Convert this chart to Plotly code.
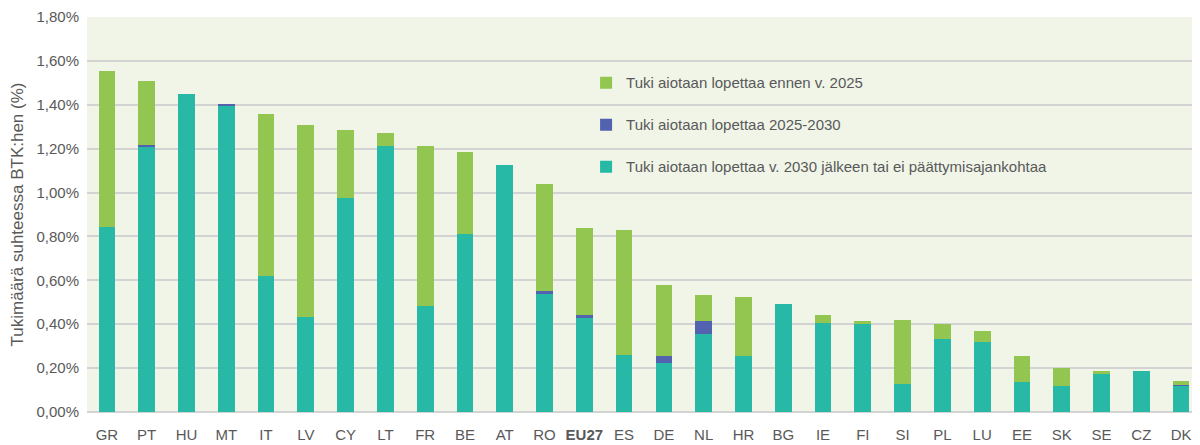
import plotly.graph_objects as go

countries = ["GR", "PT", "HU", "MT", "IT", "LV", "CY", "LT", "FR", "BE", "AT", "RO", "EU27",
             "ES", "DE", "NL", "HR", "BG", "IE", "FI", "SI", "PL", "LU", "EE", "SK", "SE", "CZ", "DK"]
# % of GDP
after_2030 = [0.843, 1.208, 1.450, 1.395, 0.619, 0.432, 0.975, 1.213, 0.482, 0.811, 1.126, 0.539, 0.432,
              0.259, 0.224, 0.356, 0.255, 0.491, 0.405, 0.402, 0.126, 0.332, 0.318, 0.136, 0.117, 0.177, 0.186, 0.119]
between_2025_2030 = [0.0, 0.009, 0.0, 0.008, 0.0, 0.0, 0.0, 0.0, 0.0, 0.0, 0.0, 0.012, 0.009,
                     0.0, 0.033, 0.058, 0.0, 0.0, 0.0, 0.0, 0.0, 0.0, 0.0, 0.0, 0.0, 0.0, 0.0, 0.004]
before_2025 = [0.712, 0.292, 0.0, 0.0, 0.740, 0.877, 0.311, 0.059, 0.731, 0.374, 0.0, 0.489, 0.397,
               0.570, 0.321, 0.119, 0.269, 0.0, 0.036, 0.012, 0.293, 0.068, 0.050, 0.118, 0.082, 0.009, 0.0, 0.017]

tick_text = [f"<b>{c}</b>" if c == "EU27" else c for c in countries]

# stacking order bottom -> top, legend rank top -> bottom
series = [
    ("Tuki aiotaan lopettaa v. 2030 jälkeen tai ei päättymisajankohtaa", after_2030, "#27B9A6", 3),
    ("Tuki aiotaan lopettaa 2025-2030", between_2025_2030, "#5262AF", 2),
    ("Tuki aiotaan lopettaa ennen v. 2025", before_2025, "#92C650", 1),
]

fig = go.Figure()
for name, values, color, rank in series:
    fig.add_trace(
        go.Bar(
            x=countries,
            y=values,
            name=name,
            legendgroup=name,
            legendrank=rank,
            marker=dict(color=color, line_width=0),
        )
    )

# page body has an 8px margin, so the figure is offset by 8px on screen
fig.update_layout(
    barmode="stack",
    bargap=0.58,
    width=1200,
    height=445,
    margin=dict(l=79, r=7, t=9, b=41),
    paper_bgcolor="white",
    plot_bgcolor="#F0F5E8",
    separators=", ",
    font=dict(family="Liberation Sans, Arial, sans-serif", size=13, color="#595959"),
    legend=dict(
        x=0.448,
        y=0.875,
        xanchor="left",
        yanchor="top",
        bgcolor="rgba(0,0,0,0)",
        traceorder="grouped",
        tracegroupgap=19.5,
        font=dict(size=15, color="#595959"),
        itemwidth=30,
    ),
    xaxis=dict(
        tickmode="array",
        tickvals=countries,
        ticktext=tick_text,
        showgrid=False,
        showline=False,
        ticks="",
        automargin=False,
        ticklabelstandoff=12,
        tickfont=dict(size=15, color="#595959"),
    ),
    yaxis=dict(
        range=[0, 1.8],
        dtick=0.2,
        tickformat=".2f",
        ticksuffix="%",
        gridcolor="#D3D3D3",
        gridwidth=2,
        zeroline=True,
        zerolinecolor="#D3D3D3",
        zerolinewidth=2,
        showline=False,
        ticks="",
        automargin=False,
        ticklabelstandoff=7,
        tickfont=dict(size=15, color="#595959"),
        title=dict(text="Tukimäärä suhteessa BTK:hen (%)", font=dict(size=17, color="#595959"), standoff=10),
    ),
)

fig.write_html("out.html")
